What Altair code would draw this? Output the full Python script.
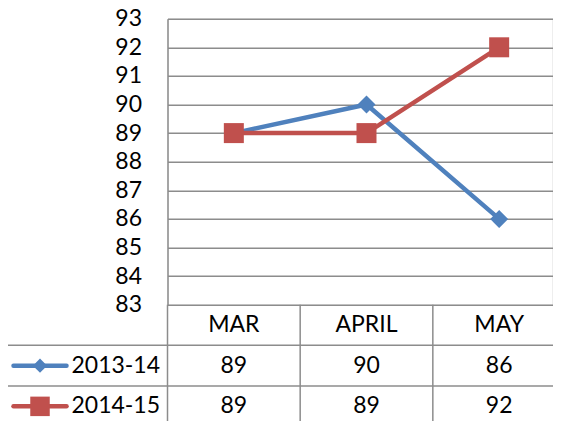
import altair as alt
import pandas as pd

# ---- data ----
months = ["MAR", "APRIL", "MAY"]
series = ["2013-14", "2014-15"]
values_1314 = [89, 90, 86]
values_1415 = [89, 89, 92]
y_ticks = [83, 84, 85, 86, 87, 88, 89, 90, 91, 92, 93]
table_rows = ["head", "2013-14", "2014-15"]

# ---- style ----
colors = ["#4F81BD", "#C0504D"]
shapes = ["diamond", "square"]
grid_color = "#8c8c8c"
FONT = "Lato"
FS = 23

long = pd.DataFrame({
    "month": months * 2,
    "series": [series[0]] * len(months) + [series[1]] * len(months),
    "value": values_1314 + values_1415,
})
long["label"] = long["value"].astype(str)
long["row"] = long["series"]

header = pd.DataFrame({"month": months, "row": ["head"] * len(months), "label": months})
cells = pd.concat([header, long[["month", "row", "label"]]], ignore_index=True)
months_df = pd.DataFrame({"month": months})
legend_df = pd.DataFrame({"series": series, "row": series})
hlines = pd.DataFrame({"row": series})

xscale = alt.Scale(type="band", domain=months, range=[0, 398], paddingInner=0, paddingOuter=0)
rowscale = alt.Scale(type="band", domain=table_rows, range=[286, 408], paddingInner=0, paddingOuter=0)
yscale = alt.Scale(domain=[83, 93], nice=False, zero=False)
cscale = alt.Scale(domain=series, range=colors)
sscale = alt.Scale(domain=series, range=shapes)

X = alt.X("month:N", scale=xscale, axis=None, bandPosition=0.5)
Y = alt.Y(
    "value:Q",
    scale=yscale,
    axis=alt.Axis(
        values=y_ticks, grid=True, gridColor=grid_color, gridWidth=1.5,
        domain=True, domainColor=grid_color, domainWidth=1.5, ticks=False,
        labelFont=FONT, labelFontSize=FS, labelColor="black", labelPadding=26,
        title=None,
    ),
)
Y_noaxis = alt.Y("value:Q", scale=yscale, axis=None)

base = alt.Chart(long)
lines = base.mark_line(strokeWidth=4.5).encode(
    x=X, y=Y,
    color=alt.Color("series:N", scale=cscale, legend=None),
    order=alt.Order("month_idx:Q"),
).transform_calculate(month_idx="indexof(['MAR','APRIL','MAY'], datum.month)")
points = base.mark_point(filled=True, opacity=1).encode(
    x=X, y=Y_noaxis,
    color=alt.Color("series:N", scale=cscale, legend=None),
    shape=alt.Shape("series:N", scale=sscale, legend=None),
    size=alt.Size("series:N", scale=alt.Scale(domain=series, range=[324, 400]), legend=None),
)

RY = alt.Y("row:N", scale=rowscale, axis=None, bandPosition=0.5)

texts = alt.Chart(cells).mark_text(font=FONT, fontSize=FS, color="black", align="center", baseline="middle").encode(
    x=X, y=RY, text="label:N"
)
vrules = alt.Chart(months_df).mark_rule(color=grid_color, strokeWidth=1.5).encode(
    x=alt.X("month:N", scale=xscale, axis=None, bandPosition=0),
    y=alt.value(286), y2=alt.value(408),
)
hrules = alt.Chart(hlines).mark_rule(color=grid_color, strokeWidth=1.5).encode(
    y=alt.Y("row:N", scale=rowscale, axis=None, bandPosition=0),
    x=alt.value(-161.5), x2=alt.value(398),
)
leftrule = alt.Chart(hlines.head(1)).mark_rule(color=grid_color, strokeWidth=1.5).encode(
    y=alt.Y("row:N", scale=rowscale, axis=None, bandPosition=0),
    y2=alt.value(408),
    x=alt.value(-161.5),
)
leg_lines = alt.Chart(legend_df).mark_rule(strokeWidth=4.5, strokeCap="round").encode(
    y=RY, x=alt.value(-154), x2=alt.value(-101),
    color=alt.Color("series:N", scale=cscale, legend=None),
)
leg_points = alt.Chart(legend_df).mark_point(filled=True, opacity=1).encode(
    y=RY, x=alt.value(-127.5),
    color=alt.Color("series:N", scale=cscale, legend=None),
    shape=alt.Shape("series:N", scale=sscale, legend=None),
    size=alt.Size("series:N", scale=alt.Scale(domain=series, range=[200, 380]), legend=None),
)
leg_text = alt.Chart(legend_df).mark_text(font=FONT, fontSize=FS, color="black", align="left", baseline="middle").encode(
    y=RY, x=alt.value(-96), text="series:N"
)

chart = alt.layer(
    lines, points, vrules, hrules, leftrule, texts, leg_lines, leg_points, leg_text
).resolve_scale(
    y="independent", size="independent"
).properties(
    width=385, height=286,
    autosize=alt.AutoSizeParams(type="none"),
    padding={"left": 159.5, "top": 10.7, "right": 0, "bottom": 116},
).configure_view(strokeWidth=0).configure(background="white")

chart.save("out.html", embed_options={"renderer": "svg", "actions": False})
